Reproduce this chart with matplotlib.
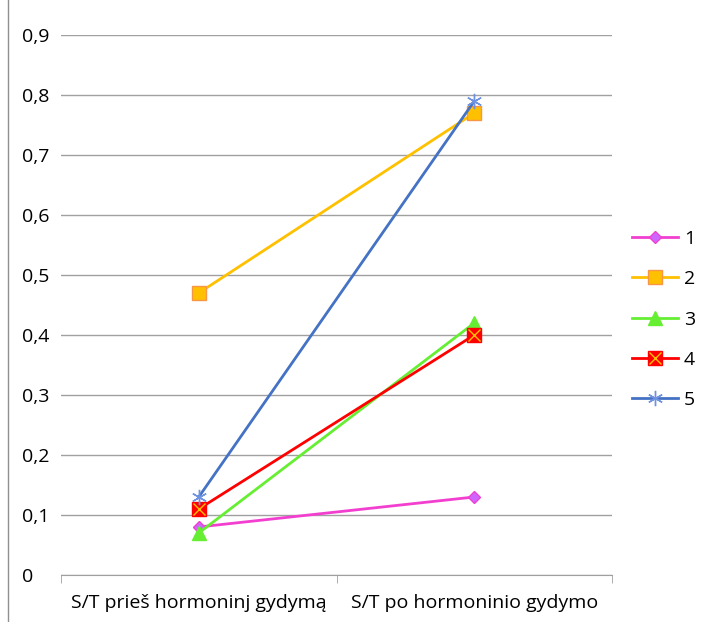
import matplotlib.pyplot as plt
from matplotlib.lines import Line2D
from matplotlib.legend_handler import HandlerTuple

categories = ["S/T prieš hormoninj gydymą", "S/T po hormoninio gydymo"]
series_names = ["1", "2", "3", "4", "5"]
s1 = [0.08, 0.13]
s2 = [0.47, 0.77]
s3 = [0.07, 0.42]
s4 = [0.11, 0.40]
s5 = [0.13, 0.79]
yticks = [0, 0.1, 0.2, 0.3, 0.4, 0.5, 0.6, 0.7, 0.8, 0.9]
ytick_labels = ["0", "0,1", "0,2", "0,3", "0,4", "0,5", "0,6", "0,7", "0,8", "0,9"]

plt.rcParams['font.family'] = ['Open Sans', 'DejaVu Sans']

fig = plt.figure(figsize=(7.02, 6.22), dpi=100)
ax = fig.add_axes([0.0869, 0.0756, 0.785, 0.8681])
x = range(len(categories))

h1, = ax.plot(x, s1, color='#F23FD0', lw=2, marker='D', ms=6.5,
              mfc='#CC66FF', mec='#F23FD0', zorder=5)
h2, = ax.plot(x, s2, color='#FFC000', lw=2, marker='s', ms=10,
              mfc='#FFC000', mec='#F79646', zorder=5)
h3, = ax.plot(x, s3, color='#66EE33', lw=2, marker='^', ms=10,
              mfc='#66EE33', mec='#66EE33', zorder=5)
h4, = ax.plot(x, s4, color='#FF0000', lw=2, marker='s', ms=10,
              mfc='#FF0000', mec='#FF0000', zorder=5)
h4x, = ax.plot(x, s4, ls='none', marker='x', ms=8, mec='#FFC000', mew=1, zorder=6)
h5, = ax.plot(x, s5, color='#4472C4', lw=2, marker=(6, 2, 0), ms=11,
              mec='#6F93E0', mew=1, zorder=7)

ax.set_xlim(-0.5, 1.5)
ax.set_ylim(0, 0.9)
ax.set_yticks(yticks)
ax.set_yticklabels(ytick_labels, fontsize=14, ha='left')
ax.yaxis.grid(True, color='#A0A0A0', lw=1)
ax.set_axisbelow(True)
ax.tick_params(axis='y', length=0, pad=28)

ax.set_xticks(list(x))
ax.set_xticklabels(categories, fontsize=14)
ax.set_xticks([-0.5, 0.5, 1.5], minor=True)
ax.tick_params(axis='x', which='major', length=0, pad=14)
ax.tick_params(axis='x', which='minor', length=6, color='#A0A0A0')

for sp in ['top', 'right', 'left']:
    ax.spines[sp].set_visible(False)
ax.spines['bottom'].set_color('#A0A0A0')

ax.legend([h1, h2, h3, (h4, h4x), h5], series_names,
          handler_map={tuple: HandlerTuple(ndivide=1, pad=0)},
          loc='center left', bbox_to_anchor=(1.0, 0.473), frameon=False,
          fontsize=14, handlelength=2.4, labelspacing=1.15, handletextpad=0.3,
          borderaxespad=0.6)

fig.add_artist(Line2D([0.012, 0.012], [0, 1], color='#909090', lw=1))

fig.savefig("out.png", dpi=100)
